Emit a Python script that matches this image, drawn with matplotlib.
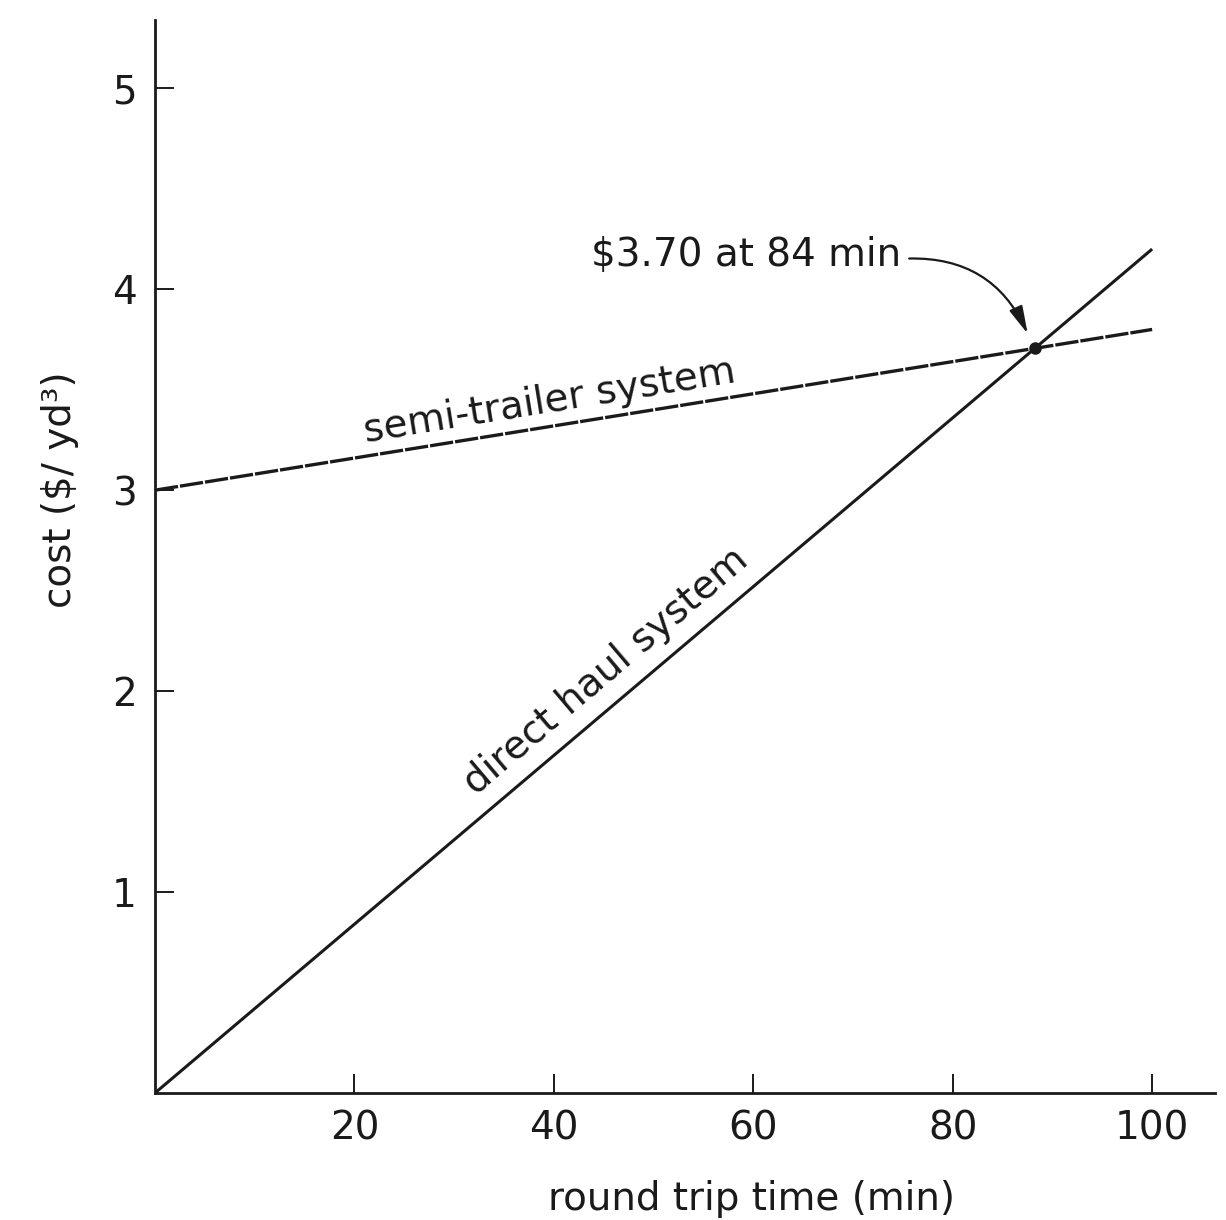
import numpy as np
import matplotlib
matplotlib.use("Agg")
import matplotlib.pyplot as plt

plt.rcParams['font.family'] = ['DejaVu Sans']

# data
time_min = [0, 100]
direct_haul = [0.0, 4.2]
semi_trailer = [3.0, 3.8]
x_ticks = [20, 40, 60, 80, 100]
y_ticks = [1, 2, 3, 4, 5]
note_text = "$3.70 at 84 min"

# where the two lines cross
s_d = (direct_haul[1] - direct_haul[0]) / (time_min[1] - time_min[0])
s_s = (semi_trailer[1] - semi_trailer[0]) / (time_min[1] - time_min[0])
x_cross = (semi_trailer[0] - direct_haul[0]) / (s_d - s_s)
y_cross = direct_haul[0] + s_d * x_cross

fs = 28
fig = plt.figure(figsize=(12.26, 12.2), dpi=100)
ax = fig.add_axes([0.1264, 0.1041, 0.8646, 0.8795])

ink = '#1a1a1a'
ax.plot(time_min, direct_haul, color=ink, lw=2.2, solid_capstyle='butt')
ax.plot(time_min, semi_trailer, color=ink, lw=2.4, dashes=(7, 0.6))
ax.plot([x_cross], [y_cross], 'o', color=ink, ms=8)

ax.set_xlim(0, 106.3)
ax.set_ylim(0, 5.34)
for side in ('top', 'right'):
    ax.spines[side].set_visible(False)
for side in ('left', 'bottom'):
    ax.spines[side].set_linewidth(2)
    ax.spines[side].set_color(ink)

ax.set_xticks(x_ticks)
ax.set_yticks(y_ticks)
ax.tick_params(direction='in', length=14, width=1.4, color=ink,
               labelsize=fs, labelcolor=ink)
ax.tick_params(axis='x', pad=12)
ax.tick_params(axis='y', pad=13)

ax.set_xlabel('round trip time (min)', fontsize=fs, color=ink)
ax.xaxis.set_label_coords(0.563, -0.081)
ax.set_ylabel('cost ($/ yd³)', fontsize=fs, color=ink)
ax.yaxis.set_label_coords(-0.072, 0.562)

# line labels
ax.text(39.6, 3.445, 'semi-trailer system', fontsize=fs, color=ink,
        rotation=9.2, ha='center', va='center', rotation_mode='anchor')
ax.text(45.2, 2.1, 'direct haul system', fontsize=fs, color=ink,
        rotation=40.3, ha='center', va='center', rotation_mode='anchor')

ax.annotate(note_text, xy=(x_cross - 0.6, y_cross + 0.06), xytext=(74.8, 4.17),
            fontsize=fs, color=ink, ha='right', va='center',
            arrowprops=dict(arrowstyle='-|>,head_length=0.6,head_width=0.15',
                            color=ink, lw=1.6, relpos=(1, 0.4), shrinkA=4, shrinkB=2,
                            connectionstyle='arc3,rad=-0.35'))

fig.savefig('out.png', dpi=100, facecolor='white')
